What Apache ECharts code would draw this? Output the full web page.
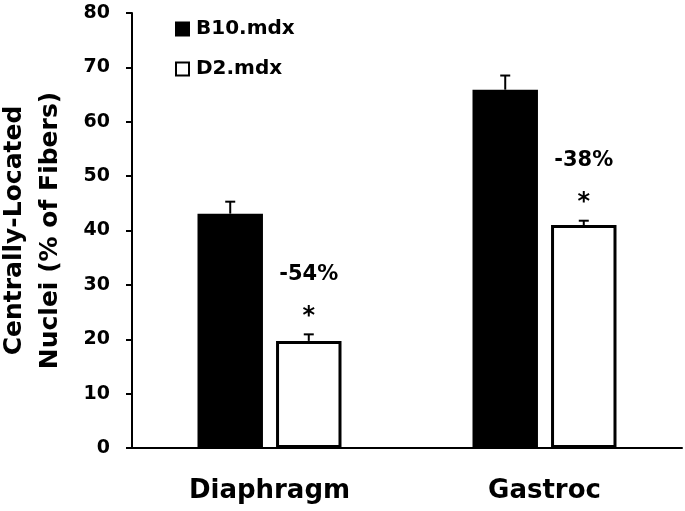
<!DOCTYPE html>
<html><head><meta charset="utf-8">
<script src="https://cdn.jsdelivr.net/npm/echarts@6/dist/echarts.min.js"></script>
<style>html,body{margin:0;padding:0;background:#fff}#c{width:685px;height:511px}</style>
</head><body><div id="c"></div>
<script>
var categories = ['Diaphragm', 'Gastroc'];
var seriesNames = ['B10.mdx', 'D2.mdx'];
var b10Values = [43.1, 65.9];
var b10Errors = [2.2, 2.6];
var d2Values = [19.7, 41.0];
var d2Errors = [1.2, 0.8];
var d2Annotations = ['-54%', '-38%'];
var yTicks = [0, 10, 20, 30, 40, 50, 60, 70, 80];

var FONT = '"DejaVu Sans", sans-serif';
var BW = 0.238, GAP = 0.2;

function errSeries(vals, errs, idx, notes) {
  return {
    type: 'custom',
    z: 5,
    data: vals.map(function (v, i) { return [i, v, v + errs[i]]; }),
    renderItem: function (params, api) {
      var cat = api.value(0);
      var band = api.size([1, 0])[0];
      var bw = band * BW;
      var gap = bw * GAP;
      var total = 2 * bw + gap;
      var off = -total / 2 + bw / 2 + idx * (bw + gap);
      var top = api.coord([cat, api.value(1)]);
      var cap = api.coord([cat, api.value(2)]);
      var x = top[0] + off;
      var children = [
        { type: 'line', shape: { x1: x, y1: top[1], x2: x, y2: cap[1] }, style: { stroke: '#000', lineWidth: 2 } },
        { type: 'line', shape: { x1: x - 5, y1: cap[1], x2: x + 5, y2: cap[1] }, style: { stroke: '#000', lineWidth: 2 } }
      ];
      if (notes) {
        children.push({ type: 'text', style: { text: '*', x: x, y: cap[1] - 18, align: 'center', verticalAlign: 'middle', font: 'bold 24px ' + FONT, fill: '#000' } });
        children.push({ type: 'text', style: { text: notes[params.dataIndex], x: x, y: cap[1] - 60, align: 'center', verticalAlign: 'middle', font: 'bold 21px ' + FONT, fill: '#000' } });
      }
      return { type: 'group', children: children };
    }
  };
}

var chart = echarts.init(document.getElementById('c'));
chart.setOption({
  animation: false,
  textStyle: { fontFamily: FONT },
  legend: {
    orient: 'vertical',
    left: 170, top: 14,
    itemWidth: 13, itemHeight: 13, itemGap: 20,
    icon: 'rect',
    textStyle: { fontSize: 20, lineHeight: 20, fontWeight: 'bold', color: '#000', fontFamily: FONT, padding: [0, 0, 0, 2] },
    data: seriesNames
  },
  grid: { left: 132, right: 3, top: 13, bottom: 63, containLabel: false, outerBoundsMode: 'none' },
  xAxis: {
    type: 'category', data: categories,
    axisLine: { lineStyle: { color: '#000', width: 2 } },
    axisTick: { show: false },
    axisLabel: { color: '#000', fontSize: 26, fontWeight: 'bold', margin: 30, fontFamily: FONT }
  },
  yAxis: {
    type: 'value', min: 0, max: 80, interval: 10,
    name: 'Centrally-Located\nNuclei (% of Fibers)',
    nameLocation: 'middle', nameGap: 64, nameRotate: 90,
    nameTextStyle: { color: '#000', fontSize: 25, fontWeight: 'bold', lineHeight: 36, fontFamily: FONT },
    axisLine: { show: true, lineStyle: { color: '#000', width: 2 } },
    axisTick: { show: true, inside: false, length: 6, lineStyle: { color: '#000', width: 2 } },
    splitLine: { show: false },
    axisLabel: { color: '#000', fontSize: 19, fontWeight: 'bold', margin: 22, fontFamily: FONT,
      formatter: function (v) { return yTicks.indexOf(v) >= 0 ? String(v) : ''; } }
  },
  series: [
    { name: seriesNames[0], type: 'bar', data: b10Values, barWidth: (BW * 100) + '%', barGap: (GAP * 100) + '%',
      itemStyle: { color: '#000', borderColor: '#000', borderWidth: 2 } },
    { name: seriesNames[1], type: 'bar', data: d2Values, barWidth: (BW * 100) + '%',
      itemStyle: { color: '#fff', borderColor: '#000', borderWidth: 3 } },
    errSeries(b10Values, b10Errors, 0, null),
    errSeries(d2Values, d2Errors, 1, d2Annotations)
  ]
});
</script></body></html>
